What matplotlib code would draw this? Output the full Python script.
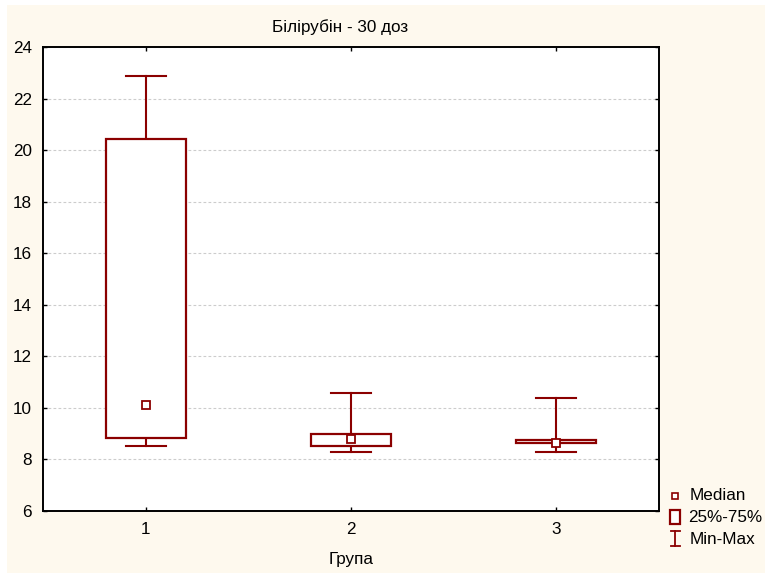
import matplotlib
matplotlib.use("Agg")
from matplotlib import pyplot as plt
from matplotlib.patches import Rectangle

plt.rcParams["font.family"] = ["Liberation Sans", "DejaVu Sans"]

# data
groups = [1, 2, 3]
minimum = [8.52, 8.29, 8.29]
q25 = [8.83, 8.52, 8.64]
median = [10.11, 8.79, 8.64]
q75 = [20.45, 8.99, 8.75]
maximum = [22.87, 10.58, 10.38]

# styles
red = "#8b0000"
cream = "#fef9ee"
box_w = 0.39
cap_w = 0.195
fs = 12.3

fig = plt.figure(figsize=(7.65, 5.75), dpi=100)
fig.patch.set_facecolor("white")

# cream background panel
fig.patches.append(Rectangle((7 / 765, 2 / 575), 1 - 7 / 765, 1 - 7 / 575,
                             transform=fig.transFigure, facecolor=cream,
                             edgecolor="none", zorder=-10))

ax = fig.add_axes([43 / 765, 1 - 511 / 575, 616 / 765, 464 / 575])
ax.set_facecolor("white")

# grid
ax.set_axisbelow(True)
ax.grid(axis="y", ls=(0, (2.5, 2)), c="0.8", lw=0.8)

for i, g in enumerate(groups):
    # whiskers
    ax.plot([g, g], [minimum[i], q25[i]], color=red, lw=1.5, zorder=2)
    ax.plot([g, g], [q75[i], maximum[i]], color=red, lw=1.5, zorder=2)
    ax.plot([g - cap_w / 2, g + cap_w / 2], [minimum[i], minimum[i]], color=red, lw=1.5, zorder=2)
    ax.plot([g - cap_w / 2, g + cap_w / 2], [maximum[i], maximum[i]], color=red, lw=1.5, zorder=2)
    # box
    ax.add_patch(Rectangle((g - box_w / 2, q25[i]), box_w, q75[i] - q25[i],
                           facecolor="white", edgecolor=red, lw=1.6, zorder=3))
    # median
    ax.plot(g, median[i], marker="s", ms=6, mfc="white", mec=red, mew=1.3, zorder=4)

ax.set_xlim(0.5, 3.5)
ax.set_ylim(6, 24)
ax.set_xticks(groups)
ax.set_yticks(range(6, 25, 2))
ax.tick_params(direction="in", length=3, width=1, top=True, right=True,
               labelsize=fs, pad=8)
for s in ax.spines.values():
    s.set_linewidth(1.4)

ax.set_xlabel("Група", fontsize=fs, labelpad=11)
fig.text(340 / 765, 1 - 27 / 575, "Білірубін - 30 доз", ha="center", va="center", fontsize=fs)

# legend drawn by hand
lax = fig.add_axes([663 / 765, 1 - 552 / 575, 100 / 765, 66 / 575])
lax.set_xlim(663, 763)
lax.set_ylim(552, 486)
lax.axis("off")
lax.plot(675, 496, marker="s", ms=5, mfc="white", mec=red, mew=1.2)
lax.add_patch(Rectangle((670, 510), 10, 14, facecolor="white", edgecolor=red, lw=1.6))
lax.plot([675, 675], [531, 546], color=red, lw=1.3)
lax.plot([670.5, 679.5], [531, 531], color=red, lw=1.3)
lax.plot([670.5, 679.5], [546, 546], color=red, lw=1.3)
lax.text(690, 496, "Median", va="center", fontsize=fs)
lax.text(688, 517, "25%-75%", va="center", fontsize=fs)
lax.text(690, 539, "Min-Max", va="center", fontsize=fs)

fig.savefig("out.png", dpi=100)
